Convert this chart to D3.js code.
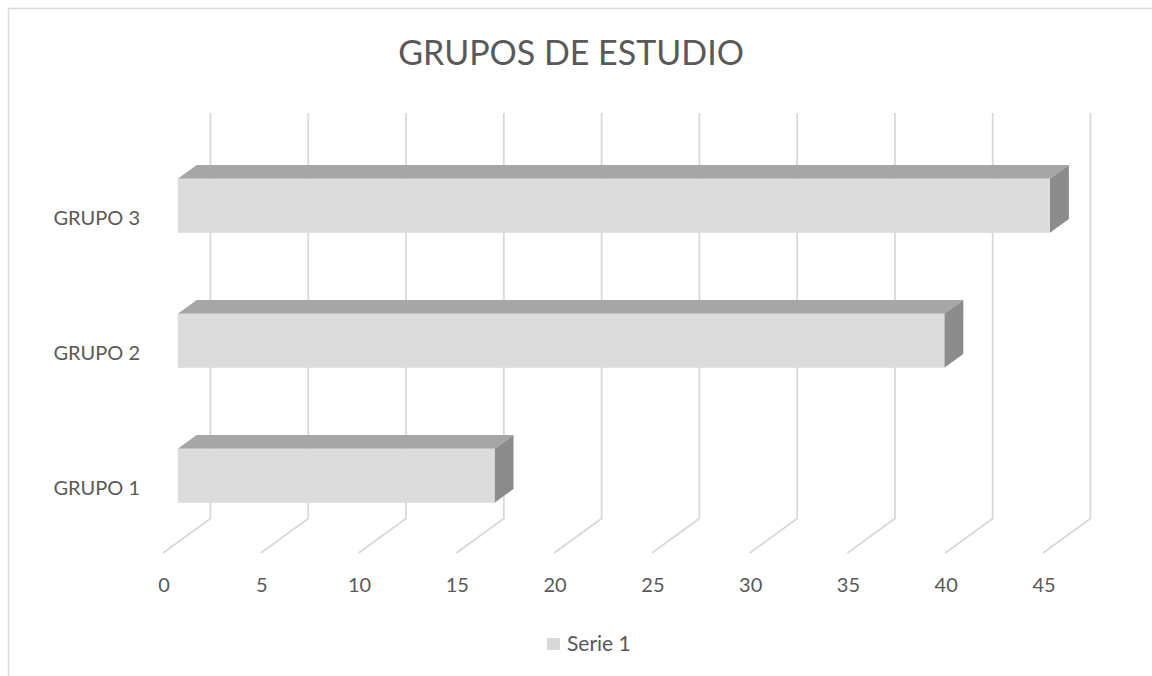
<!DOCTYPE html>
<html>
<head>
<meta charset="utf-8">
<script src="https://cdn.jsdelivr.net/npm/d3@7"></script>
<style>
  body { margin: 0; background: #fff; }
  svg { display: block; font-family: Lato, "Open Sans", sans-serif; }
</style>
</head>
<body>
<svg id="chart" width="1152" height="676"></svg>
<script>
var categories = ["GRUPO 1", "GRUPO 2", "GRUPO 3"];
var values = [16.2, 39.2, 44.6];
var xTicks = [0, 5, 10, 15, 20, 25, 30, 35, 40, 45];
var seriesName = "Serie 1";

var svg = d3.select("#chart");

// outer chart border (runs off right/bottom edge)
svg.append("rect")
    .attr("x", 8.5).attr("y", 8.5)
    .attr("width", 1160).attr("height", 680)
    .attr("fill", "none")
    .attr("stroke", "#d9d9d9")
    .attr("stroke-width", 1.5);

// front plane scales, depth offset goes up/right
var x = d3.scaleLinear().domain([0, 45]).range([163, 1043]);
var y = d3.scaleBand()
    .domain(categories.slice().reverse())
    .range([149, 554])
    .paddingInner(0.6)
    .paddingOuter(0.3);
var depthX = 47.5, depthY = -34.5;
var floorY = 553;
var zFront = 0.31, zBack = 0.71;

function px(v, z) { return x(v) + z * depthX; }
function py(yy, z) { return yy + z * depthY; }

svg.append("text")
    .attr("x", 571)
    .attr("y", 53)
    .attr("dy", "0.35em")
    .attr("text-anchor", "middle")
    .attr("font-size", 34)
    .attr("fill", "#595959")
    .text("GRUPOS DE ESTUDIO");

// gridlines: floor diagonal + back wall vertical
var grid = svg.append("g")
    .attr("fill", "none")
    .attr("stroke", "#d9d9d9")
    .attr("stroke-width", 1.8);
xTicks.forEach(function(t) {
  grid.append("path")
      .attr("d", "M" + px(t, 0) + "," + floorY +
                 "L" + px(t, 1) + "," + py(floorY, 1) +
                 "L" + px(t, 1) + "," + py(149 - 1.5, 1));
});

// bars
var bars = svg.append("g").selectAll("g")
    .data(categories.map(function(c, i) { return {cat: c, value: values[i]}; }))
    .enter().append("g");

// top face
bars.append("path")
    .attr("fill", "#a6a6a6")
    .attr("d", function(d) {
      var t = y(d.cat);
      return "M" + px(0, zFront) + "," + py(t, zFront) +
             "L" + px(0, zBack) + "," + py(t, zBack) +
             "L" + px(d.value, zBack) + "," + py(t, zBack) +
             "L" + px(d.value, zFront) + "," + py(t, zFront) + "Z";
    });

// right side face
bars.append("path")
    .attr("fill", "#8c8c8c")
    .attr("d", function(d) {
      var t = y(d.cat), b = t + y.bandwidth();
      return "M" + px(d.value, zFront) + "," + py(t, zFront) +
             "L" + px(d.value, zBack) + "," + py(t, zBack) +
             "L" + px(d.value, zBack) + "," + py(b, zBack) +
             "L" + px(d.value, zFront) + "," + py(b, zFront) + "Z";
    });

// front face
bars.append("rect")
    .attr("fill", "#dcdcdc")
    .attr("x", function(d) { return px(0, zFront); })
    .attr("y", function(d) { return py(y(d.cat), zFront); })
    .attr("width", function(d) { return x(d.value) - x(0); })
    .attr("height", y.bandwidth());

// x tick labels
svg.append("g").selectAll("text")
    .data(xTicks)
    .enter().append("text")
    .attr("x", function(d) { return x(d) + 1; })
    .attr("y", 585)
    .attr("dy", "0.35em")
    .attr("text-anchor", "middle")
    .attr("font-size", 20)
    .attr("fill", "#595959")
    .text(function(d) { return d; });

// category labels
svg.append("g").selectAll("text")
    .data(categories)
    .enter().append("text")
    .attr("x", 140)
    .attr("y", function(d) { return y(d) + y.bandwidth() / 2 + 1; })
    .attr("dy", "0.35em")
    .attr("text-anchor", "end")
    .attr("font-size", 20)
    .attr("fill", "#595959")
    .text(function(d) { return d; });

// legend
var legend = svg.append("g").attr("transform", "translate(547,644)");
legend.append("rect")
    .attr("x", 0).attr("y", -6)
    .attr("width", 13).attr("height", 12)
    .attr("fill", "#d9d9d9");
legend.append("text")
    .attr("x", 20)
    .attr("dy", "0.35em")
    .attr("font-size", 21)
    .attr("fill", "#595959")
    .text(seriesName);
</script>
</body>
</html>
